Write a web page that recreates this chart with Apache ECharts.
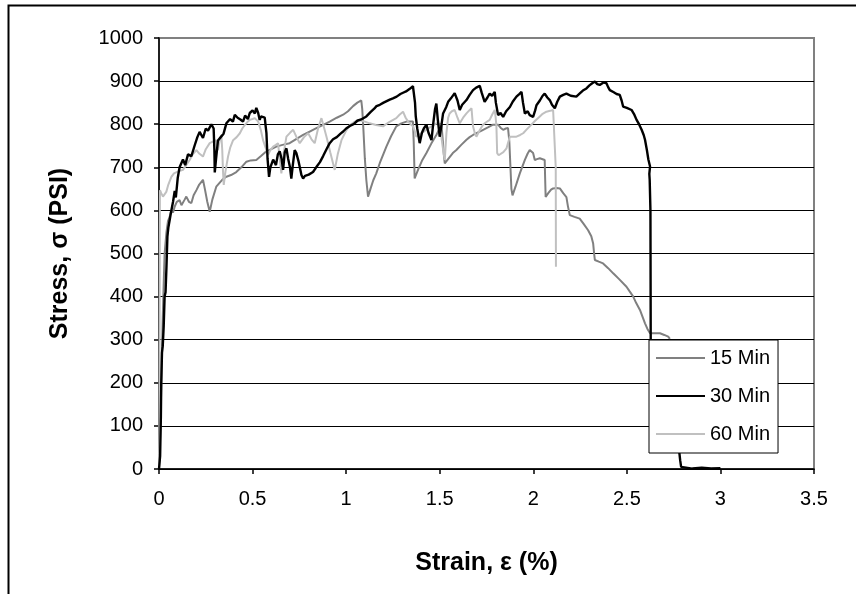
<!DOCTYPE html>
<html>
<head>
<meta charset="utf-8">
<script src="https://cdn.jsdelivr.net/npm/echarts@6/dist/echarts.min.js"></script>
<style>
  html, body { margin: 0; padding: 0; background: #fff; }
  #chart { width: 856px; height: 594px; }
</style>
</head>
<body>
<div id="chart"></div>
<script>
// Stress–strain curves after three curing times
const seriesNames = ['15 Min', '30 Min', '60 Min'];
const xTicks = [0, 0.5, 1, 1.5, 2, 2.5, 3, 3.5];
const yTicks = [0, 100, 200, 300, 400, 500, 600, 700, 800, 900, 1000];

// 15 Min
const strain15 = [0, 0.005, 0.01, 0.015, 0.02, 0.025, 0.03, 0.04, 0.048, 0.057, 0.065, 0.075, 0.084, 0.095, 0.11, 0.12, 0.128, 0.137, 0.146, 0.16, 0.173, 0.185, 0.2, 0.215, 0.235, 0.245, 0.258, 0.271, 0.285, 0.306, 0.32, 0.34, 0.36, 0.385, 0.413, 0.44, 0.467, 0.49, 0.52, 0.545, 0.574, 0.6, 0.627, 0.66, 0.698, 0.735, 0.77, 0.805, 0.841, 0.875, 0.912, 0.95, 0.984, 1.01, 1.037, 1.06, 1.081, 1.086, 1.092, 1.1, 1.108, 1.117, 1.13, 1.145, 1.161, 1.18, 1.2, 1.215, 1.24, 1.268, 1.295, 1.322, 1.357, 1.361, 1.364, 1.366, 1.385, 1.405, 1.429, 1.455, 1.482, 1.5, 1.509, 1.515, 1.522, 1.527, 1.55, 1.57, 1.589, 1.615, 1.643, 1.66, 1.678, 1.705, 1.732, 1.76, 1.785, 1.812, 1.825, 1.839, 1.853, 1.865, 1.872, 1.878, 1.883, 1.889, 1.905, 1.928, 1.94, 1.955, 1.97, 1.981, 1.99, 1.999, 2.008, 2.02, 2.035, 2.061, 2.063, 2.066, 2.08, 2.095, 2.106, 2.125, 2.142, 2.16, 2.177, 2.185, 2.195, 2.22, 2.248, 2.27, 2.293, 2.31, 2.32, 2.325, 2.329, 2.35, 2.373, 2.4, 2.427, 2.46, 2.498, 2.515, 2.534, 2.55, 2.57, 2.585, 2.597, 2.61, 2.624, 2.65, 2.677, 2.7, 2.721, 2.73];
const stress15 = [0, 60, 150, 260, 350, 430, 500, 550, 575, 585, 600, 595, 609, 620, 624, 612, 609, 625, 632, 620, 617, 635, 647, 660, 671, 650, 620, 597, 625, 655, 662, 672, 678, 682, 689, 700, 713, 716, 717, 726, 737, 742, 748, 752, 756, 766, 775, 783, 791, 798, 806, 815, 822, 830, 842, 850, 855, 835, 790, 720, 670, 632, 650, 670, 686, 710, 732, 748, 772, 795, 802, 806, 806, 760, 710, 674, 695, 715, 733, 755, 775, 790, 802, 770, 730, 709, 722, 733, 740, 752, 764, 770, 775, 781, 787, 793, 799, 799, 792, 787, 790, 791, 760, 700, 650, 635, 655, 686, 700, 717, 732, 740, 738, 733, 717, 719, 721, 717, 680, 631, 640, 648, 651, 652, 651, 640, 631, 610, 589, 585, 581, 568, 554, 540, 523, 500, 485, 481, 477, 466, 454, 440, 423, 412, 400, 385, 369, 352, 338, 325, 315, 315, 315, 311, 307, 302];

// 30 Min
const strain30 = [0, 0.006, 0.01, 0.012, 0.016, 0.02, 0.025, 0.03, 0.035, 0.04, 0.045, 0.05, 0.058, 0.066, 0.075, 0.084, 0.09, 0.1, 0.11, 0.128, 0.14, 0.155, 0.173, 0.19, 0.205, 0.217, 0.235, 0.25, 0.262, 0.28, 0.292, 0.296, 0.298, 0.305, 0.315, 0.33, 0.345, 0.36, 0.38, 0.395, 0.405, 0.42, 0.435, 0.449, 0.46, 0.475, 0.485, 0.5, 0.512, 0.52, 0.53, 0.538, 0.545, 0.565, 0.57, 0.574, 0.58, 0.588, 0.595, 0.61, 0.625, 0.635, 0.645, 0.655, 0.663, 0.672, 0.681, 0.69, 0.7, 0.707, 0.715, 0.725, 0.734, 0.745, 0.755, 0.761, 0.77, 0.78, 0.8, 0.823, 0.84, 0.86, 0.877, 0.895, 0.912, 0.93, 0.95, 0.97, 0.984, 1.0, 1.02, 1.04, 1.06, 1.08, 1.108, 1.13, 1.15, 1.162, 1.18, 1.2, 1.233, 1.25, 1.27, 1.29, 1.304, 1.32, 1.34, 1.357, 1.366, 1.368, 1.372, 1.38, 1.393, 1.405, 1.415, 1.429, 1.44, 1.456, 1.465, 1.475, 1.482, 1.49, 1.5, 1.51, 1.518, 1.535, 1.545, 1.56, 1.58, 1.595, 1.607, 1.62, 1.643, 1.66, 1.678, 1.695, 1.714, 1.725, 1.74, 1.755, 1.767, 1.78, 1.794, 1.8, 1.812, 1.825, 1.839, 1.855, 1.875, 1.89, 1.91, 1.925, 1.937, 1.945, 1.955, 1.97, 1.981, 1.999, 2.01, 2.017, 2.035, 2.05, 2.061, 2.075, 2.088, 2.1, 2.115, 2.128, 2.142, 2.16, 2.177, 2.2, 2.23, 2.25, 2.265, 2.284, 2.3, 2.315, 2.329, 2.342, 2.355, 2.375, 2.391, 2.4, 2.409, 2.43, 2.445, 2.462, 2.472, 2.48, 2.5, 2.525, 2.54, 2.552, 2.565, 2.579, 2.59, 2.597, 2.607, 2.615, 2.624, 2.62, 2.622, 2.626, 2.627, 2.628, 2.63, 2.7, 2.78, 2.785, 2.79, 2.8, 2.85, 2.9, 2.95, 3.0];
const stress30 = [0, 30, 120, 200, 270, 285, 330, 400, 410, 470, 540, 560, 580, 600, 620, 645, 630, 675, 700, 718, 705, 730, 726, 750, 770, 782, 768, 790, 785, 800, 790, 740, 688, 720, 762, 770, 778, 802, 812, 806, 822, 815, 811, 806, 820, 812, 826, 832, 825, 838, 826, 810, 818, 815, 795, 780, 720, 678, 700, 718, 705, 730, 737, 720, 694, 735, 744, 720, 700, 674, 705, 740, 733, 715, 695, 682, 674, 680, 683, 689, 700, 712, 726, 742, 756, 765, 770, 778, 783, 790, 796, 800, 808, 811, 818, 828, 836, 842, 845, 850, 857, 860, 864, 870, 873, 876, 882, 888, 890, 850, 818, 790, 756, 780, 790, 799, 780, 763, 800, 835, 848, 810, 771, 800, 825, 840, 852, 860, 872, 855, 833, 845, 856, 868, 879, 885, 889, 872, 852, 862, 871, 866, 875, 850, 821, 826, 817, 830, 840, 852, 864, 870, 875, 850, 825, 830, 821, 817, 832, 844, 855, 866, 871, 862, 856, 845, 837, 852, 864, 868, 871, 866, 864, 872, 878, 883, 890, 895, 899, 893, 891, 897, 895, 886, 879, 874, 870, 868, 855, 841, 838, 833, 822, 810, 800, 787, 775, 764, 740, 718, 702, 685, 671, 600, 400, 200, 50, 45, 40, 20, 5, 2, 1, 3, 1, 2];

// 60 Min
const strain60 = [0, 0.002, 0.003, 0.004, 0.005, 0.012, 0.021, 0.03, 0.039, 0.05, 0.066, 0.08, 0.1, 0.128, 0.145, 0.164, 0.18, 0.2, 0.215, 0.235, 0.25, 0.271, 0.29, 0.306, 0.31, 0.315, 0.325, 0.333, 0.338, 0.342, 0.346, 0.355, 0.369, 0.38, 0.396, 0.415, 0.432, 0.445, 0.458, 0.472, 0.485, 0.5, 0.512, 0.53, 0.545, 0.556, 0.57, 0.583, 0.595, 0.61, 0.625, 0.636, 0.645, 0.654, 0.665, 0.681, 0.7, 0.717, 0.735, 0.752, 0.775, 0.797, 0.815, 0.832, 0.85, 0.868, 0.88, 0.895, 0.915, 0.939, 0.955, 0.975, 1.0, 1.02, 1.04, 1.064, 1.08, 1.1, 1.126, 1.16, 1.197, 1.23, 1.268, 1.285, 1.304, 1.318, 1.331, 1.345, 1.357, 1.366, 1.375, 1.4, 1.429, 1.455, 1.482, 1.5, 1.512, 1.52, 1.527, 1.536, 1.545, 1.553, 1.565, 1.58, 1.595, 1.607, 1.625, 1.643, 1.658, 1.67, 1.674, 1.678, 1.687, 1.696, 1.715, 1.732, 1.75, 1.767, 1.78, 1.794, 1.799, 1.803, 1.807, 1.815, 1.821, 1.84, 1.857, 1.866, 1.875, 1.89, 1.91, 1.93, 1.946, 1.965, 1.981, 2.01, 2.035, 2.05, 2.07, 2.09, 2.106, 2.115, 2.12, 2.121];
const stress60 = [0, 100, 300, 500, 647, 640, 632, 636, 643, 660, 678, 686, 690, 694, 705, 717, 730, 740, 732, 725, 742, 756, 760, 763, 750, 740, 765, 775, 740, 690, 659, 690, 725, 745, 763, 770, 779, 790, 798, 805, 810, 812, 814, 806, 785, 763, 745, 729, 740, 748, 752, 756, 720, 686, 730, 771, 780, 787, 770, 756, 770, 779, 765, 756, 790, 814, 795, 771, 735, 694, 730, 763, 785, 798, 804, 810, 808, 806, 802, 798, 795, 805, 814, 822, 829, 815, 806, 800, 795, 785, 771, 778, 787, 795, 802, 800, 760, 735, 717, 780, 815, 825, 830, 833, 815, 802, 815, 825, 832, 837, 815, 795, 780, 771, 787, 799, 805, 810, 822, 833, 815, 795, 733, 728, 725, 735, 744, 758, 771, 771, 771, 775, 779, 788, 795, 808, 818, 824, 829, 831, 833, 829, 700, 469];

const seriesColors = ['#808080', '#000000', '#c0c0c0'];
const seriesWidths = [2, 2.4, 2];

function pairs(xs, ys) {
  return xs.map((x, i) => [x, ys[i]]);
}
const seriesData = [pairs(strain15, stress15), pairs(strain30, stress30), pairs(strain60, stress60)];

const FONT = 'Arial, "Liberation Sans", sans-serif';
const chart = echarts.init(document.getElementById('chart'), null, { renderer: 'canvas' });

// grid lines: black inside the plot, the top edge gray like the frame
const splitColors = yTicks.map((v, i) => (i === yTicks.length - 1 ? '#808080' : '#000000'));

// legend key: a plain short line segment, no marker
const LEGEND_LINE = 'path://M0,0 L49,0 L49,2 L0,2 Z';

chart.setOption({
  animation: false,
  backgroundColor: '#ffffff',
  grid: {
    left: 159, top: 38, right: 42, bottom: 125,
    show: true, borderColor: '#808080', borderWidth: 2, backgroundColor: '#ffffff'
  },
  xAxis: {
    type: 'value', min: xTicks[0], max: xTicks[xTicks.length - 1], interval: 0.5,
    axisLine: { show: true, onZero: false, lineStyle: { color: '#000', width: 1.5 } },
    axisTick: { show: true, inside: false, length: 5, lineStyle: { color: '#000', width: 1.5 } },
    splitLine: { show: false },
    axisLabel: { color: '#000', fontSize: 20, fontFamily: FONT, margin: 20, formatter: v => String(v) },
    name: 'Strain, \u03b5 (%)', nameLocation: 'middle', nameGap: 82,
    nameTextStyle: { color: '#000', fontSize: 25, fontWeight: 'bold', fontFamily: FONT }
  },
  yAxis: {
    type: 'value', min: yTicks[0], max: yTicks[yTicks.length - 1], interval: 100,
    axisLine: { show: true, onZero: false, lineStyle: { color: '#000', width: 1.5 } },
    axisTick: { show: true, inside: false, length: 5, lineStyle: { color: '#000', width: 1.5 } },
    splitLine: { show: true, lineStyle: { color: splitColors, width: 1.2 } },
    axisLabel: { color: '#000', fontSize: 20, fontFamily: FONT, margin: 16, formatter: v => String(v) },
    name: 'Stress, \u03c3 (PSI)', nameLocation: 'middle', nameGap: 86, nameRotate: 90,
    nameTextStyle: { color: '#000', fontSize: 25, fontWeight: 'bold', fontFamily: FONT }
  },
  legend: {
    data: seriesNames.map(name => ({ name, icon: LEGEND_LINE })),
    orient: 'vertical', left: 649, top: 340, symbolKeepAspect: true,
    itemStyle: { borderWidth: 0 },
    backgroundColor: '#ffffff', borderColor: '#000000', borderWidth: 1,
    padding: [8, 8, 9, 7], itemWidth: 49, itemHeight: 20, itemGap: 18,
    textStyle: { color: '#000', fontSize: 20, fontFamily: FONT }
  },
  graphic: [{
    type: 'polyline', silent: true, z: 100,
    shape: { points: [[860, 5.5], [8.5, 5.5], [8.5, 600]] },
    style: { stroke: '#000', lineWidth: 2, fill: null }
  }],
  series: seriesNames.map((name, i) => ({
    name, type: 'line', data: seriesData[i],
    showSymbol: false, symbol: 'none', smooth: false,
    lineStyle: { color: seriesColors[i], width: seriesWidths[i] },
    itemStyle: { color: seriesColors[i] },
    z: i === 1 ? 3 : 2
  }))
});
</script>
</body>
</html>
